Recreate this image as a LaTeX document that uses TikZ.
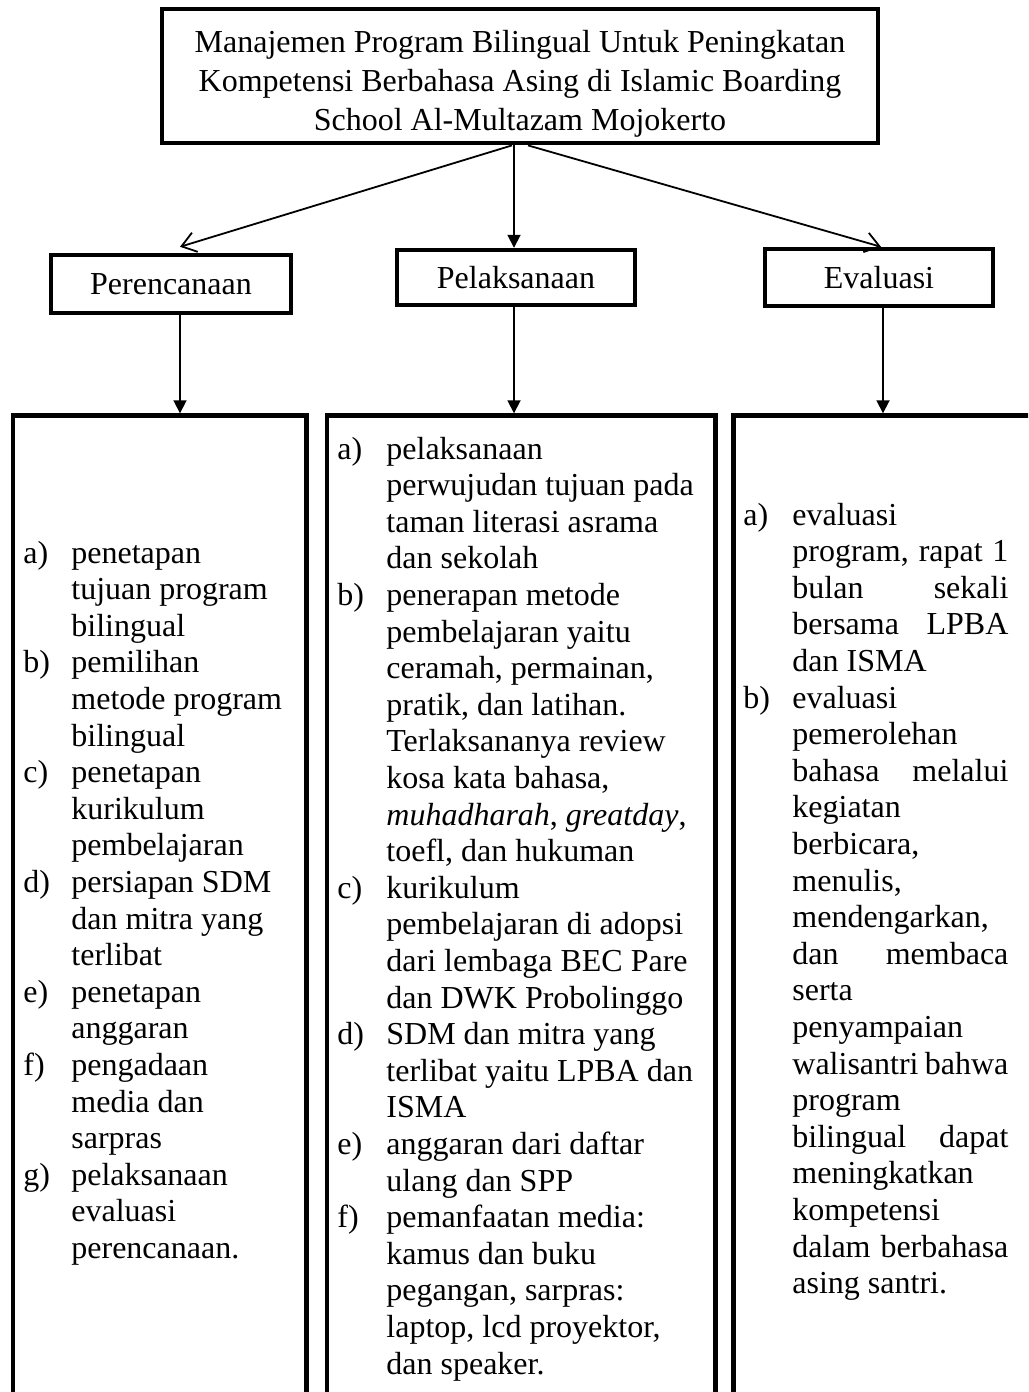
\documentclass[tikz,border=0pt]{standalone}
\usepackage{fontspec}
\setmainfont{Liberation Serif}
\usetikzlibrary{arrows.meta}
\begin{document}
\begin{tikzpicture}[x=0.5pt,y=-0.5pt,
  box/.style={draw, line width=2.2pt, inner sep=0pt},
  conn/.style={line width=0.9pt},
  tipfill/.style={-{Triangle[length=6.5pt,width=6.5pt]}},
  tipopen/.style={-{Straight Barb[length=7pt,width=10pt,line width=0.9pt]}},
  coltext/.style={inner sep=0pt, anchor=base west, font=\fontsize{16pt}{18.3pt}\selectfont},
  headtext/.style={font=\fontsize{16pt}{18pt}\selectfont},
]
\useasboundingbox (0,0) rectangle (1028,1392);
\clip (0,0) rectangle (1028,1392);

% title
\node[box, line width=2.4pt, minimum width=358pt, minimum height=67pt] (title) at (520,76) {};
\node[inner sep=0pt, anchor=base, font=\fontsize{16pt}{19.6pt}\selectfont] (titletext) at (520,52)
  {\begin{tabular}[t]{@{}c@{}}
   Manajemen Program Bilingual Untuk Peningkatan\\
   Kompetensi Berbahasa Asing di Islamic Boarding\\
   School Al-Multazam Mojokerto
   \end{tabular}};

% headings
\node[box, headtext, minimum width=120pt, minimum height=29pt] (per) at (171,284) {Perencanaan};
\node[box, headtext, minimum width=119pt, minimum height=27.5pt] (pel) at (516,277.5) {Pelaksanaan};
\node[box, headtext, minimum width=114pt, minimum height=28.5pt] (eva) at (879,277.5) {Evaluasi};

% columns
\node[box, minimum width=146.75pt, minimum height=502pt] (colL) at (159.75,917.5) {};
\node[box, minimum width=194.25pt, minimum height=502pt] (colM) at (521.25,917.5) {};
\node[box, minimum width=153.25pt, minimum height=502pt] (colR) at (886.75,917.5) {};

% connectors
\coordinate (xL) at (180,0);
\coordinate (xM) at (514,0);
\coordinate (xR) at (883,0);
\draw[conn,tipfill] (title.south -| xM) -- (pel.north -| xM);
\draw[conn,tipopen] ([xshift=-4pt]title.south) -- ([xshift=4.5pt,yshift=3pt]per.north);
\draw[conn,tipopen] ([xshift=4pt]title.south) -- ([xshift=1pt]eva.north);
\draw[conn,tipfill] (per.south -| xL) -- (colL.north -| xL);
\draw[conn,tipfill] (pel.south -| xM) -- (colM.north -| xM);
\draw[conn,tipfill] (eva.south -| xR) -- (colR.north -| xR);

% left column text
\node[coltext] (txtL) at (23,563) {\begin{tabular}[t]{@{}p{24pt}@{}l@{}}
a) & penetapan\\
 & tujuan program\\
 & bilingual\\
b) & pemilihan\\
 & metode program\\
 & bilingual\\
c) & penetapan\\
 & kurikulum\\
 & pembelajaran\\
d) & persiapan SDM\\
 & dan mitra yang\\
 & terlibat\\
e) & penetapan\\
 & anggaran\\
f) & pengadaan\\
 & media dan\\
 & sarpras\\
g) & pelaksanaan\\
 & evaluasi\\
 & perencanaan.
\end{tabular}};

% middle column text
\node[coltext] (txtM) at (337,459) {\begin{tabular}[t]{@{}p{24.5pt}@{}l@{}}
a) & pelaksanaan\\
 & perwujudan tujuan pada\\
 & taman literasi asrama\\
 & dan sekolah\\
b) & penerapan metode\\
 & pembelajaran yaitu\\
 & ceramah, permainan,\\
 & pratik, dan latihan.\\
 & Terlaksananya review\\
 & kosa kata bahasa,\\
 & \textit{muhadharah}, \textit{greatday},\\
 & toefl, dan hukuman\\
c) & kurikulum\\
 & pembelajaran di adopsi\\
 & dari lembaga BEC Pare\\
 & dan DWK Probolinggo\\
d) & SDM dan mitra yang\\
 & terlibat yaitu LPBA dan\\
 & ISMA\\
e) & anggaran dari daftar\\
 & ulang dan SPP\\
f) & pemanfaatan media:\\
 & kamus dan buku\\
 & pegangan, sarpras:\\
 & laptop, lcd proyektor,\\
 & dan speaker.
\end{tabular}};

% right column text
\node[coltext] (txtR) at (743,525) {\begin{tabular}[t]{@{}p{24.5pt}@{}l@{}}
a) & evaluasi\\
 & \makebox[108pt][s]{program, rapat 1}\\
 & \makebox[108pt][s]{bulan sekali}\\
 & \makebox[108pt][s]{bersama LPBA}\\
 & dan ISMA\\
b) & evaluasi\\
 & pemerolehan\\
 & \makebox[108pt][s]{bahasa melalui}\\
 & kegiatan\\
 & berbicara,\\
 & menulis,\\
 & mendengarkan,\\
 & \makebox[108pt][s]{dan membaca}\\
 & serta\\
 & penyampaian\\
 & \makebox[108pt][s]{walisantri bahwa}\\
 & program\\
 & \makebox[108pt][s]{bilingual dapat}\\
 & meningkatkan\\
 & kompetensi\\
 & \makebox[108pt][s]{dalam berbahasa}\\
 & asing santri.
\end{tabular}};
\end{tikzpicture}
\end{document}
